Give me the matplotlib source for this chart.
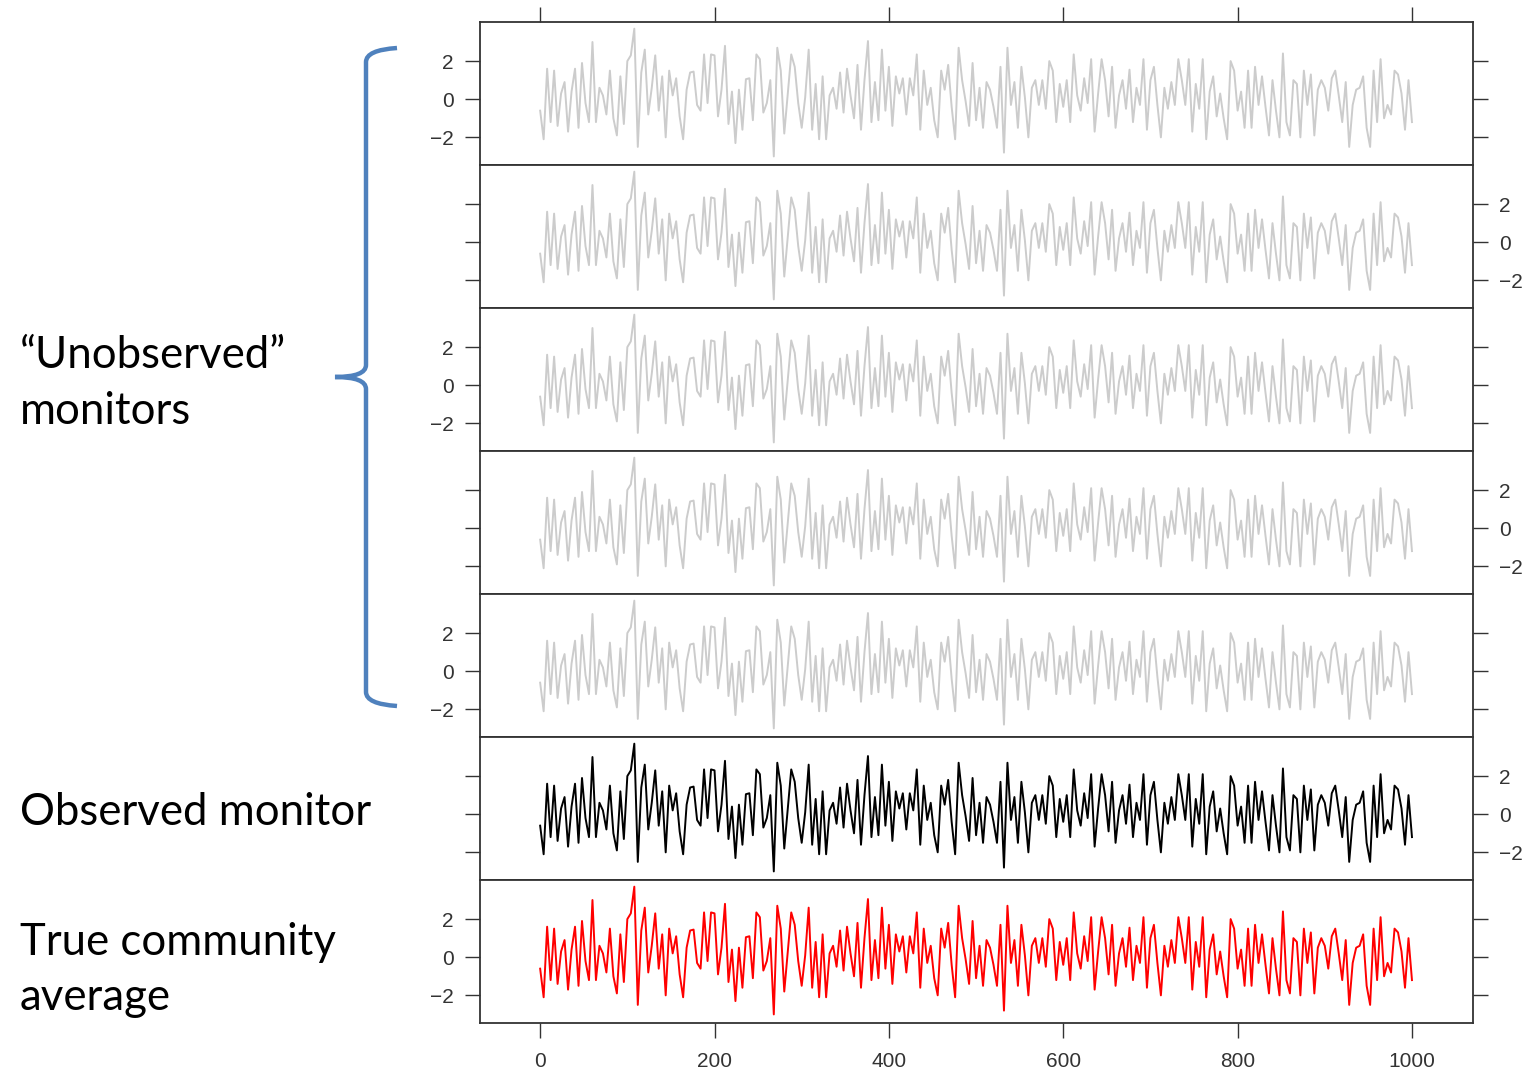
"""Seven stacked monitor series (lattice-style) with left-hand annotations."""
import matplotlib

matplotlib.use("Agg")
import matplotlib.pyplot as plt
import numpy as np
from matplotlib.path import Path
from matplotlib.patches import PathPatch

# series, one value every 4 time steps (0..1000)
STEP = 4
series = [
    -0.6, -2.1, 1.6, -1.2, 1.5, -1.4, 0.3, 0.9, -1.7, 0.4,
    1.6, -1.5, 1.9, -0.2, -1.2, 3.0, -1.2, 0.6, 0.2, -0.8,
    1.5, -1.0, -1.9, 1.2, -1.3, 2.0, 2.3, 3.7, -2.5, 1.4,
    2.6, -0.8, 0.6, 2.3, -0.6, 1.2, -2.0, 1.5, 0.2, 1.1,
    -0.9, -2.1, 0.5, 1.4, 1.45, -0.3, -0.6, 2.35, -0.2, 2.35,
    2.3, -0.9, 0.5, 2.8, -1.3, 0.4, -2.3, 0.5, -1.6, 1.05,
    1.1, -1.1, 2.35, 2.1, -0.7, -0.2, 1.0, -3.0, 2.7, 1.5,
    -1.8, 0.3, 2.35, 1.7, -0.2, -1.5, 0.1, 2.6, -1.6, 0.8,
    -2.1, 1.2, -2.1, 0.2, 0.6, -0.5, 1.4, -0.7, 1.6, 0.2,
    -1.0, 1.8, -1.6, 1.0, 3.05, -1.2, 0.9, -1.1, 2.6, -0.6,
    1.7, -1.4, 1.2, 0.3, 1.1, -0.8, 1.1, 0.2, 2.35, -1.6,
    1.5, -0.3, 0.6, -1.1, -2.0, 1.5, 0.5, 1.8, -0.4, -2.1,
    2.7, 1.0, -0.1, -1.4, 1.9, -1.1, 0.6, -1.5, 0.9, 0.5,
    -0.4, -1.5, 1.7, -2.8, 2.7, -0.3, 0.9, -1.5, 1.7, 0.1,
    -2.0, 0.6, 1.0, -0.3, 1.0, -0.5, 2.0, 1.5, -1.2, 0.8,
    -0.4, 1.0, -1.2, 2.35, 0.2, -0.6, 1.1, -0.2, 2.1, -1.7,
    0.3, 2.1, 1.0, -0.9, 1.7, -1.5, 0.2, 1.0, -0.5, 1.55,
    -1.2, 0.6, -0.3, 2.1, -1.6, 1.0, 1.7, -0.3, -2.0, 0.6,
    -0.5, 0.9, -0.3, 2.1, 1.0, -0.3, 2.1, -1.7, 0.8, -0.5,
    2.1, -2.1, 0.4, 1.2, -0.9, 0.3, -1.0, -2.1, 2.0, 1.5,
    -0.6, 0.4, -1.5, 1.5, -1.5, 1.7, -0.3, 1.2, -0.4, -1.9,
    1.0, -0.6, -2.0, 2.4, -1.2, -1.9, 1.0, 0.8, -2.0, 1.5,
    -0.3, 1.3, -1.9, 0.5, 1.0, 0.6, -0.6, 1.1, 1.5, 0.2,
    -1.2, 0.9, -2.5, -0.3, 0.5, 0.6, 1.2, -1.5, -2.5, 1.5,
    -1.2, 2.1, -1.0, -0.3, -0.8, 1.5, 1.3, 0.3, -1.6, 1.0,
    -1.2,
]
panel_colors = ["#cccccc"] * 5 + ["black", "red"]
yticks = [-2, 0, 2]
xticks = [0, 200, 400, 600, 800, 1000]

W, H = 1530, 1071
fig = plt.figure(figsize=(W / 100, H / 100), dpi=100)
plt.rcParams["font.family"] = ["Liberation Sans", "DejaVu Sans"]

t = np.arange(len(series)) * STEP
left, right, top, ph = 480, 1473, 22, 143
n = len(panel_colors)
for k, col in enumerate(panel_colors):
    y0 = top + k * ph
    ax = fig.add_axes([left / W, 1 - (y0 + ph) / H, (right - left) / W, ph / H])
    ax.plot(t, series, color=col, lw=1.4)
    ax.set_xlim(-69, 1070)
    ax.set_ylim(-3.45, 4.05)
    ax.set_yticks(yticks)
    ax.set_xticks(xticks)
    for s in ax.spines.values():
        s.set_linewidth(1.3)
        s.set_color("#333333")
    labl = k % 2 == 0
    ax.tick_params(axis="y", direction="out", length=11, width=1, pad=8,
                   labelsize=15, colors="#333333", left=True, right=True,
                   labelleft=labl, labelright=not labl)
    ax.tick_params(axis="x", direction="out", length=11, width=1, pad=10,
                   labelsize=15, colors="#333333",
                   top=(k == 0), bottom=(k == n - 1),
                   labeltop=False, labelbottom=(k == n - 1))

# overlay in pixel coordinates for the annotations
ov = fig.add_axes([0, 0, 1, 1], zorder=-1)
ov.set_xlim(0, W)
ov.set_ylim(H, 0)
ov.axis("off")

txt = dict(family=["Lato", "DejaVu Sans"], fontsize=31.5, color="black",
           va="baseline", ha="left")
ov.text(20, 368, "\u201cUnobserved\u201d", **txt)
ov.text(20, 424, "monitors", **txt)
ov.text(20, 825, "Observed monitor", **txt)
ov.text(20, 955, "True community", **txt)
ov.text(20, 1010, "average", **txt)

# curly brace
verts = [(397, 48), (366, 50), (366, 62), (366, 365), (366, 377), (335, 377),
         (366, 377), (366, 389), (366, 692), (366, 704), (397, 706)]
codes = [Path.MOVETO, Path.CURVE3, Path.CURVE3, Path.LINETO, Path.CURVE3,
         Path.CURVE3, Path.CURVE3, Path.CURVE3, Path.LINETO, Path.CURVE3,
         Path.CURVE3]
ov.add_patch(PathPatch(Path(verts, codes), fill=False, edgecolor="#4f81bd",
                       lw=3.2, capstyle="butt"))

fig.savefig("out.png", dpi=100)
